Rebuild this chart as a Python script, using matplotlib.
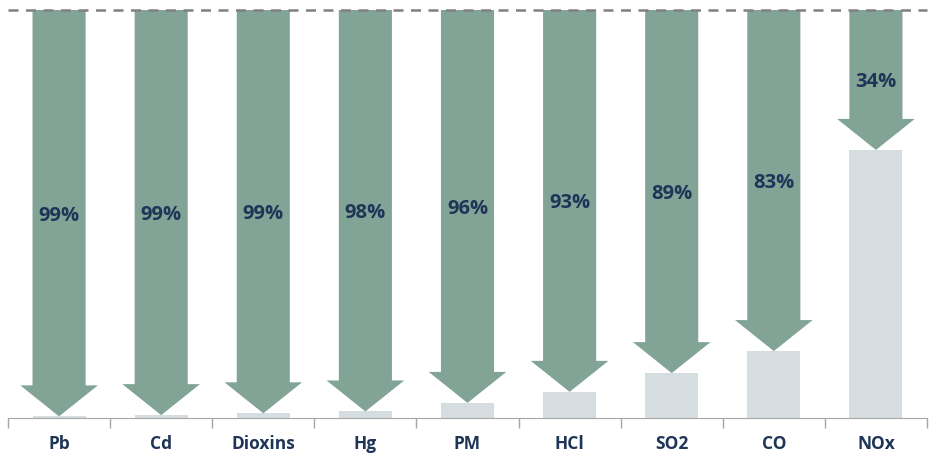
import matplotlib.pyplot as plt
from matplotlib.patches import FancyArrow
import numpy as np

plt.rcParams['font.family'] = ['Open Sans', 'DejaVu Sans']

contaminantes = ['Pb', 'Cd', 'Dioxins', 'Hg', 'PM', 'HCl', 'SO2', 'CO', 'NOx']
etiquetas = ['99%', '99%', '99%', '98%', '96%', '93%', '89%', '83%', '34%']
# porcentaje de emisiones que queda despues del tratamiento
restante = [0.4, 0.7, 1.15, 1.6, 3.7, 6.4, 11.0, 16.4, 65.7]

verde = '#82A497'
gris = '#D6DDE0'
azul = '#1F3557'

fig = plt.figure(figsize=(9.31, 4.53), dpi=100)
ax = fig.add_axes([8/931, 35/453, 919/931, 408/453])

x = np.arange(len(contaminantes))
ax.bar(x, restante, width=0.52, color=gris, zorder=1)

for xi, rest, txt in zip(x, restante, etiquetas):
    flecha = FancyArrow(xi, 100, 0, rest - 100, width=0.52, head_width=0.76,
                        head_length=7.6, length_includes_head=True,
                        color=verde, lw=0, zorder=2)
    ax.add_patch(flecha)
    ax.text(xi, (100 + rest) / 2 - 0.6, txt, ha='center', va='center',
            fontsize=14.5, fontweight='bold', color=azul, zorder=3)

ax.axhline(100, color='#808080', lw=1.8, ls=(0, (4, 3)), clip_on=False, zorder=4)

ax.set_xlim(-0.5, len(contaminantes) - 0.5)
ax.set_ylim(0, 100)
ax.set_yticks([])
ax.set_xticks(x)
ax.set_xticklabels(contaminantes, fontsize=12.5, fontweight='bold', color=azul)
ax.set_xticks(np.arange(-0.5, len(contaminantes)), minor=True)
ax.tick_params(axis='x', which='major', length=0, pad=12)
ax.tick_params(axis='x', which='minor', length=7, color='#A6A6A6', width=1)
for lado in ['top', 'left', 'right']:
    ax.spines[lado].set_visible(False)
ax.spines['bottom'].set_color('#A6A6A6')

fig.savefig('out.png', dpi=100)
